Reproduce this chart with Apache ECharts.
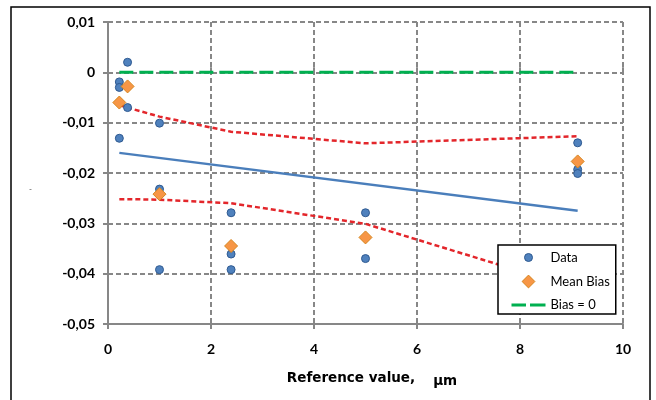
<!DOCTYPE html>
<html>
<head>
<meta charset="utf-8">
<script src="https://cdn.jsdelivr.net/npm/echarts@6/dist/echarts.min.js"></script>
<style>html,body{margin:0;padding:0;background:#fff}#c{width:656px;height:400px}</style>
</head>
<body>
<div id="c"></div>
<script>
// ---- data ----
var dataX = [0.22, 0.22, 0.22, 0.38, 0.38, 1, 1, 1, 2.39, 2.39, 2.39, 5, 5, 9.12, 9.12, 9.12];
var dataY = [-0.0019, -0.003, -0.0131, 0.002, -0.007, -0.0101, -0.0232, -0.0392, -0.0279, -0.0361, -0.0392, -0.0279, -0.037, -0.014, -0.0193, -0.0201];
var meanX = [0.22, 0.38, 1, 2.39, 5, 9.12];
var meanY = [-0.006, -0.0028, -0.0242, -0.0345, -0.0328, -0.0177];
var fitX = [0.22, 9.12];
var fitY = [-0.016, -0.0275];
var bandX = [0.22, 0.38, 1, 2.39, 5, 9.12];
var upperY = [-0.0065, -0.0070, -0.0088, -0.0118, -0.0141, -0.0127];
var lowerY = [-0.0252, -0.0252, -0.0253, -0.0260, -0.0301, -0.0430];
var zeroX = [0.22, 9.12];
var zeroY = [0, 0];
var xTicks = [0, 2, 4, 6, 8, 10];
var yTicks = [-0.05, -0.04, -0.03, -0.02, -0.01, 0, 0.01];
var legendNames = ['Data', 'Mean Bias', 'Bias = 0'];

function pairs(xs, ys) { return xs.map(function (x, i) { return [x, ys[i]]; }); }

var FONT = 'Lato';
var TFONT = 'DejaVu Sans';
var GRAY = '#878787';
var chart = echarts.init(document.getElementById('c'), null, { renderer: 'canvas' });

function yFmt(v) {
  if (Math.abs(v) < 1e-9) return '0';
  return v.toFixed(2).replace('.', ',');
}

var baseX = { type: 'value', min: xTicks[0], max: xTicks[xTicks.length - 1], interval: 2, gridIndex: 0 };
var baseY = { type: 'value', min: yTicks[0], max: yTicks[yTicks.length - 1], interval: 0.01, gridIndex: 0 };

// legend icons: paths whose bounding box is the full 34x14 icon cell
var ICON_CIRCLE = 'path://M0,0M34,14M13,7A4,4 0 1,0 21,7A4,4 0 1,0 13,7Z';
var ICON_DIAMOND = 'path://M0,0M34,14M17,0.6L23.4,7L17,13.4L10.6,7Z';
var ICON_DASH = 'path://M0,0M34,14M0,5.5L14.5,5.5L14.5,8.5L0,8.5ZM18.5,5.5L34,5.5L34,8.5L18.5,8.5Z';

var option = {
  animation: false,
  backgroundColor: '#fff',
  grid: { left: 108, right: 33, top: 22, bottom: 76, containLabel: false },
  xAxis: [
    Object.assign({}, baseX, {
      position: 'bottom',
      name: '{a|Reference value,}{b|μm}',
      nameLocation: 'middle',
      nameGap: 45,
      nameTextStyle: {
        rich: {
          a: { fontFamily: TFONT, fontWeight: 'bold', fontSize: 13.5, color: '#000', padding: [0, 0, 0, 13] },
          b: { fontFamily: TFONT, fontWeight: 'bold', fontSize: 13.5, color: '#000', padding: [5, 0, 0, 18] }
        }
      },
      axisLine: { show: true, onZero: false, lineStyle: { color: GRAY, width: 2 } },
      axisTick: { show: true, inside: false, length: 5, lineStyle: { color: GRAY, width: 2 } },
      axisLabel: { fontFamily: FONT, fontWeight: 'bold', fontSize: 14, color: '#000', margin: 18 },
      splitLine: { show: true, lineStyle: { color: GRAY, width: 2, type: [5, 3] } }
    }),
    Object.assign({}, baseX, {
      position: 'bottom',
      axisLine: { show: false },
      axisTick: { show: true, inside: true, length: 5, lineStyle: { color: GRAY, width: 2 } },
      axisLabel: { show: false },
      splitLine: { show: false }
    })
  ],
  yAxis: [
    Object.assign({}, baseY, {
      position: 'left',
      axisLine: { show: true, onZero: false, lineStyle: { color: GRAY, width: 2 } },
      axisTick: { show: true, inside: false, length: 5, lineStyle: { color: GRAY, width: 2 } },
      axisLabel: { fontFamily: FONT, fontWeight: 'bold', fontSize: 14, color: '#000', margin: 13, formatter: yFmt },
      splitLine: { show: true, lineStyle: { color: GRAY, width: 2, type: [5, 3] } }
    }),
    Object.assign({}, baseY, {
      position: 'left',
      axisLine: { show: false },
      axisTick: { show: true, inside: true, length: 5, lineStyle: { color: GRAY, width: 2 } },
      axisLabel: { show: false },
      splitLine: { show: false }
    })
  ],
  legend: {
    data: [
      { name: legendNames[0], icon: ICON_CIRCLE, itemStyle: { color: '#4F81BD', borderColor: '#2F5A91', borderWidth: 1 } },
      { name: legendNames[1], icon: ICON_DIAMOND, itemStyle: { color: '#F79646', borderColor: '#D6861E', borderWidth: 1 } },
      { name: legendNames[2], icon: ICON_DASH, itemStyle: { color: '#00B050', borderWidth: 0 } }
    ],
    orient: 'vertical', left: 498, top: 245,
    padding: [5, 6, 2, 13], itemWidth: 34, itemHeight: 14, itemGap: 9,
    symbolKeepAspect: true,
    backgroundColor: '#fff', borderColor: '#000', borderWidth: 1.5, borderRadius: 0,
    textStyle: { fontFamily: FONT, fontSize: 13, color: '#000', width: 60 }
  },
  graphic: [
    { type: 'rect', z: -10, silent: true, shape: { x: 11, y: 7, width: 639, height: 420 },
      style: { fill: 'none', stroke: '#000', lineWidth: 1.5 } },
    { type: 'text', silent: true, left: 29, top: 185,
      style: { text: '-', fontSize: 8, fill: '#444', fontFamily: FONT } }
  ],
  series: [
    { name: 'Fit', type: 'line', silent: true, symbol: 'none', z: 2,
      data: pairs(fitX, fitY), lineStyle: { color: '#4A7EBB', width: 2.5 } },
    { name: 'Upper', type: 'line', silent: true, symbol: 'none', z: 2,
      data: pairs(bandX, upperY), lineStyle: { color: '#E3262B', width: 2.5, type: [5, 3] } },
    { name: 'Lower', type: 'line', silent: true, symbol: 'none', z: 2,
      data: pairs(bandX, lowerY), lineStyle: { color: '#E3262B', width: 2.5, type: [5, 3] } },
    { name: legendNames[2], type: 'line', silent: true, symbol: 'none', z: 2,
      data: pairs(zeroX, zeroY), itemStyle: { color: '#00B050' },
      lineStyle: { color: '#00B050', width: 3, type: [14, 6] } },
    { name: legendNames[0], type: 'scatter', symbol: 'circle', symbolSize: 8, z: 3,
      data: pairs(dataX, dataY),
      itemStyle: { color: '#4F81BD', borderColor: '#2F5A91', borderWidth: 1, opacity: 1 } },
    { name: legendNames[1], type: 'scatter', symbol: 'diamond', symbolSize: 13, z: 4,
      data: pairs(meanX, meanY),
      itemStyle: { color: '#F79646', borderColor: '#D6861E', borderWidth: 1, opacity: 1 } }
  ]
};
chart.setOption(option);
</script>
</body>
</html>
